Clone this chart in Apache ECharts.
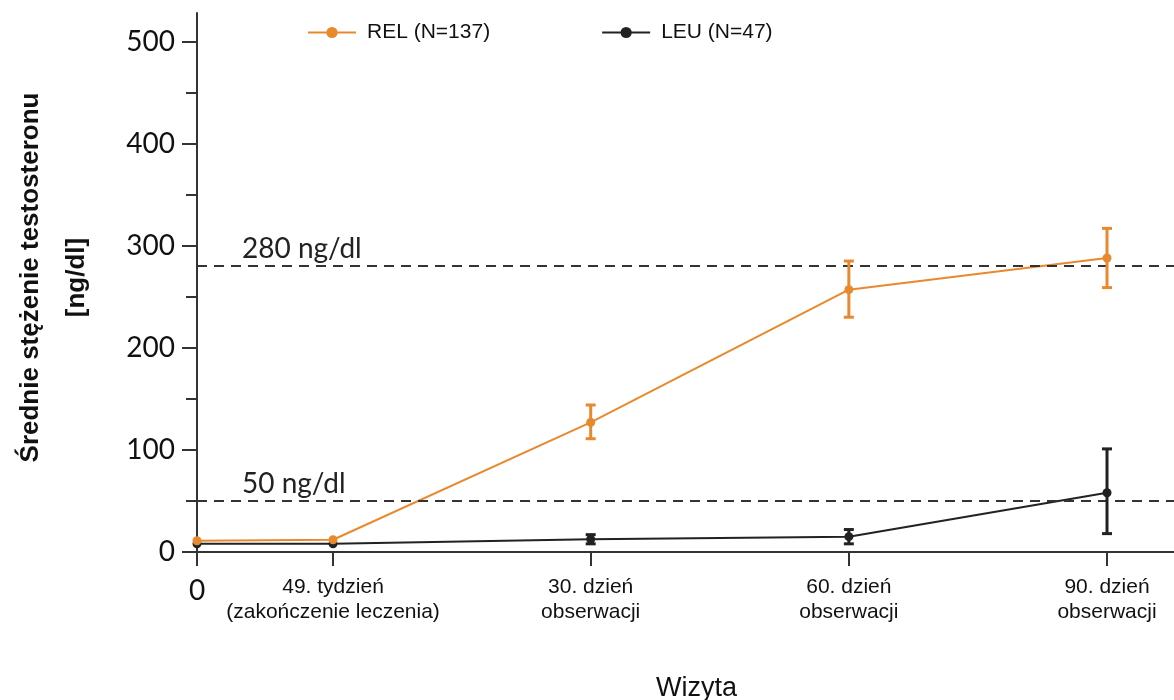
<!DOCTYPE html>
<html>
<head>
<meta charset="utf-8">
<script src="https://cdn.jsdelivr.net/npm/echarts@6/dist/echarts.min.js"></script>
<style>html,body{margin:0;padding:0;background:#fff}#c{width:1174px;height:700px}</style>
</head>
<body>
<div id="c"></div>
<script>
// ---- data ----
const visits = ['0', '49. tydzień\n(zakończenie leczenia)', '30. dzień\nobserwacji', '60. dzień\nobserwacji', '90. dzień\nobserwacji'];
const visitPos = [0, 0.528, 1.528, 2.53, 3.532];
const relName = 'REL (N=137)';
const leuName = 'LEU (N=47)';
const relMean = [11, 12, 127, 257, 288];
const relLow  = [null, null, 111, 230, 259];
const relHigh = [null, null, 144, 285, 317];
const leuMean = [8, 8, 12.5, 15, 58];
const leuLow  = [null, null, 8, 8, 18];
const leuHigh = [null, null, 17, 22, 101];
const yMajor = [0, 100, 200, 300, 400, 500];
const yMinor = [50, 150, 250, 350, 450];
const refLines = [{ value: 280, label: '280 ng/dl' }, { value: 50, label: '50 ng/dl' }];

const ORANGE = '#E8892E';
const DARK = '#222222';

function pts(means) { return means.map((m, i) => [visitPos[i], m]); }
function errs(lo, hi) {
  const out = [];
  lo.forEach((l, i) => { if (l != null) out.push([visitPos[i], l, hi[i]]); });
  return out;
}
function errRender(color) {
  return function (params, api) {
    const x = api.value(0);
    const p1 = api.coord([x, api.value(1)]);
    const p2 = api.coord([x, api.value(2)]);
    const cw = 5;
    const st = { stroke: color, lineWidth: 3 };
    return {
      type: 'group',
      children: [
        { type: 'line', shape: { x1: p1[0], y1: p1[1], x2: p2[0], y2: p2[1] }, style: st },
        { type: 'line', shape: { x1: p1[0] - cw, y1: p1[1], x2: p1[0] + cw, y2: p1[1] }, style: st },
        { type: 'line', shape: { x1: p2[0] - cw, y1: p2[1], x2: p2[0] + cw, y2: p2[1] }, style: st }
      ]
    };
  };
}

const chart = echarts.init(document.getElementById('c'), null, { renderer: 'canvas' });
chart.setOption({
  animation: false,
  backgroundColor: '#fff',
  grid: { left: 197, right: 0, top: 13, bottom: 148, containLabel: false, outerBoundsMode: 'none' },
  legend: {
    data: [relName, leuName],
    left: 302, top: 17,
    itemWidth: 48, itemHeight: 14, itemGap: 111,
    textStyle: { fontFamily: 'Liberation Sans, Arial', fontSize: 21, color: '#111', padding: [0, 0, 0, 6] }
  },
  xAxis: {
    type: 'value', min: 0, max: 3.792,
    name: 'Wizyta', nameLocation: 'middle', nameGap: 123,
    nameTextStyle: { fontFamily: 'Liberation Sans, Arial', fontSize: 27, color: '#111', padding: [0, 0, 0, 22] },
    axisLine: { show: true, onZero: false, lineStyle: { color: '#333', width: 2 } },
    axisTick: { show: true, inside: false, length: 14, customValues: visitPos, lineStyle: { color: '#333', width: 2 } },
    axisLabel: {
      customValues: visitPos, margin: 23,
      fontFamily: 'Liberation Sans, Arial', fontSize: 21, lineHeight: 25, color: '#111',
      formatter: function (v) {
        let i = visitPos.findIndex(p => Math.abs(p - v) < 1e-6);
        if (i < 0) return '';
        return i === 0 ? '{big|' + visits[0] + '}' : visits[i];
      },
      rich: { big: { fontFamily: 'Lato', fontSize: 28, lineHeight: 32, color: '#111' } }
    },
    splitLine: { show: false }
  },
  yAxis: [{
    type: 'value', min: 0, max: 528,
    name: 'Średnie stężenie testosteronu\n[ng/dl]', nameLocation: 'middle', nameGap: 97, nameRotate: 90,
    nameTextStyle: { fontFamily: 'Liberation Sans, Arial', fontSize: 26, fontWeight: 'bold', lineHeight: 46, color: '#111', padding: [0, 0, 0, 10] },
    axisLine: { show: true, lineStyle: { color: '#333', width: 2 } },
    axisTick: { show: true, length: 15, customValues: yMajor, lineStyle: { color: '#333', width: 2 } },
    axisLabel: { customValues: yMajor, margin: 22, fontFamily: 'Lato', fontSize: 28, color: '#111' },
    splitLine: { show: false }
  }, {
    type: 'value', min: 0, max: 528, position: 'left',
    axisLine: { show: false },
    axisTick: { show: true, length: 11, customValues: yMinor, lineStyle: { color: '#333', width: 2 } },
    axisLabel: { show: false },
    splitLine: { show: false }
  }],
  series: [
    {
      name: relName, type: 'line', data: pts(relMean), z: 4,
      symbol: 'circle', symbolSize: 9,
      lineStyle: { color: ORANGE, width: 2 }, itemStyle: { color: ORANGE },
      markLine: {
        silent: true, symbol: ['none', 'none'],
        lineStyle: { color: '#333', type: [10, 7], width: 2 },
        label: {
          show: true, position: 'insideStartTop', distance: 3,
          fontFamily: 'Lato', fontSize: 28, color: '#222', padding: [0, 0, 0, 42],
          formatter: p => p.name
        },
        data: refLines.map(r => ({ yAxis: r.value, name: r.label }))
      }
    },
    {
      name: leuName, type: 'line', data: pts(leuMean), z: 3,
      symbol: 'circle', symbolSize: 9,
      lineStyle: { color: DARK, width: 2 }, itemStyle: { color: DARK }
    },
    {
      name: 'REL err', type: 'custom', data: errs(relLow, relHigh), z: 5,
      encode: { x: 0, y: [1, 2] }, renderItem: errRender(ORANGE)
    },
    {
      name: 'LEU err', type: 'custom', data: errs(leuLow, leuHigh), z: 5,
      encode: { x: 0, y: [1, 2] }, renderItem: errRender(DARK)
    }
  ]
});
</script>
</body>
</html>
